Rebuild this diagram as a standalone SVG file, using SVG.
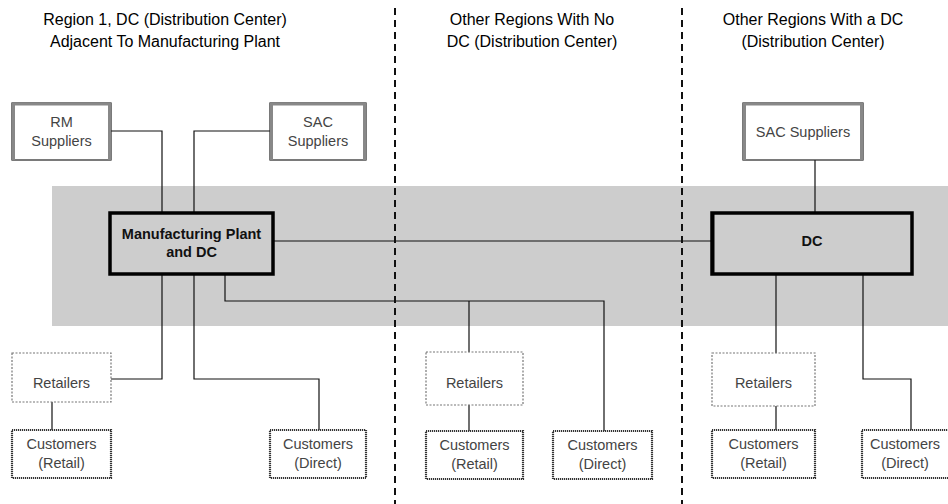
<svg xmlns="http://www.w3.org/2000/svg" width="948" height="504" viewBox="0 0 948 504">
  <defs>
    <style>
      .title { font-family: "Liberation Sans", Arial, sans-serif; font-size: 16px; fill: #000; text-anchor: middle; }
      .lbl { font-family: "Liberation Sans", Arial, sans-serif; font-size: 14.5px; fill: #444; text-anchor: middle; }
      .bold { font-family: "Liberation Sans", Arial, sans-serif; font-size: 14.5px; font-weight: bold; fill: #111; text-anchor: middle; }
      .divider { stroke: #111; stroke-width: 2; stroke-dasharray: 7 5; fill: none; }
      .band { fill: #cdcdcd; }
      .link { stroke: #111; stroke-width: 1.2; fill: none; }
      .supplier { fill: #fff; stroke: #222; stroke-width: 1.2; }
      .supplier-edge { stroke: #888; stroke-width: 3; fill: none; }
      .hub { fill: #cdcdcd; stroke: #000; stroke-width: 3.5; }
      .retailer { fill: #fff; stroke: #777; stroke-width: 1.2; stroke-dasharray: 2 1.5; }
      .customer { fill: #fff; stroke: #333; stroke-width: 2.2; stroke-dasharray: 1.2 0.8; }
    </style>
  </defs>

  <rect class="band" x="52" y="186" width="896" height="140"/>

  <line class="divider" x1="395" y1="8" x2="395" y2="504"/>
  <line class="divider" x1="682" y1="8" x2="682" y2="504"/>

  <g id="titles">
    <text class="title" x="165" y="25">Region 1, DC (Distribution Center)</text>
    <text class="title" x="165" y="47">Adjacent To Manufacturing Plant</text>
    <text class="title" x="532" y="25">Other Regions With No</text>
    <text class="title" x="532" y="47">DC (Distribution Center)</text>
    <text class="title" x="813" y="25">Other Regions With a DC</text>
    <text class="title" x="813" y="47">(Distribution Center)</text>
  </g>

  <g id="connectors">
    <polyline class="link" points="111,131 162,131 162,213"/>
    <polyline class="link" points="270,131 194,131 194,213"/>
    <line class="link" x1="273" y1="241" x2="712" y2="241"/>
    <polyline class="link" points="162,274 162,379 111,379"/>
    <polyline class="link" points="194,274 194,379 319,379 319,430"/>
    <line class="link" x1="52" y1="402" x2="52" y2="430"/>
    <polyline class="link" points="225,274 225,301 604,301 604,431"/>
    <line class="link" x1="469" y1="301" x2="469" y2="352"/>
    <line class="link" x1="469" y1="405" x2="469" y2="431"/>
    <line class="link" x1="815" y1="160" x2="815" y2="213"/>
    <line class="link" x1="776" y1="274" x2="776" y2="353"/>
    <line class="link" x1="776" y1="406" x2="776" y2="430"/>
    <polyline class="link" points="863,274 863,379 911,379 911,430"/>
  </g>

  <g id="rm-suppliers">
    <rect class="supplier" x="12" y="103" width="99" height="57"/>
    <path class="supplier-edge" d="M13.5,103 V160 M109.5,103 V160 M12,104 H111"/>
    <text class="lbl" x="61.5" y="127">RM</text>
    <text class="lbl" x="61.5" y="146">Suppliers</text>
  </g>

  <g id="sac-suppliers-1">
    <rect class="supplier" x="270" y="103" width="96" height="57"/>
    <path class="supplier-edge" d="M271.5,103 V160 M364.5,103 V160 M270,104 H366"/>
    <text class="lbl" x="318" y="127">SAC</text>
    <text class="lbl" x="318" y="146">Suppliers</text>
  </g>

  <g id="manufacturing-plant">
    <rect class="hub" x="110" y="213" width="163" height="61"/>
    <text class="bold" x="191.5" y="239">Manufacturing Plant</text>
    <text class="bold" x="191.5" y="257">and DC</text>
  </g>

  <g id="retailers-1">
    <rect class="retailer" x="12" y="353" width="99" height="49"/>
    <text class="lbl" x="61.5" y="388">Retailers</text>
  </g>
  <g id="customers-retail-1">
    <rect class="customer" x="12" y="430" width="99" height="48"/>
    <text class="lbl" x="61.5" y="449">Customers</text>
    <text class="lbl" x="61.5" y="468">(Retail)</text>
  </g>
  <g id="customers-direct-1">
    <rect class="customer" x="270" y="430" width="96" height="48"/>
    <text class="lbl" x="318" y="449">Customers</text>
    <text class="lbl" x="318" y="468">(Direct)</text>
  </g>

  <g id="retailers-2">
    <rect class="retailer" x="426" y="352" width="97" height="53"/>
    <text class="lbl" x="474.5" y="388">Retailers</text>
  </g>
  <g id="customers-retail-2">
    <rect class="customer" x="426" y="431" width="97" height="48"/>
    <text class="lbl" x="474.5" y="450">Customers</text>
    <text class="lbl" x="474.5" y="469">(Retail)</text>
  </g>
  <g id="customers-direct-2">
    <rect class="customer" x="553" y="431" width="99" height="48"/>
    <text class="lbl" x="602.5" y="450">Customers</text>
    <text class="lbl" x="602.5" y="469">(Direct)</text>
  </g>

  <g id="sac-suppliers-3">
    <rect class="supplier" x="743" y="103" width="120" height="57"/>
    <path class="supplier-edge" d="M744.5,103 V160 M861.5,103 V160 M743,104 H863"/>
    <text class="lbl" x="803" y="137">SAC Suppliers</text>
  </g>

  <g id="dc">
    <rect class="hub" x="712" y="213" width="200" height="61"/>
    <line x1="713" y1="213" x2="713" y2="274" stroke="#000" stroke-width="3"/>
    <text class="bold" x="812" y="246">DC</text>
  </g>

  <g id="retailers-3">
    <rect class="retailer" x="712" y="353" width="103" height="53"/>
    <text class="lbl" x="763.5" y="388">Retailers</text>
  </g>
  <g id="customers-retail-3">
    <rect class="customer" x="712" y="430" width="103" height="48"/>
    <text class="lbl" x="763.5" y="449">Customers</text>
    <text class="lbl" x="763.5" y="468">(Retail)</text>
  </g>
  <g id="customers-direct-3">
    <rect class="customer" x="862" y="430" width="98" height="48"/>
    <text class="lbl" x="905" y="449">Customers</text>
    <text class="lbl" x="905" y="468">(Direct)</text>
  </g>
</svg>
